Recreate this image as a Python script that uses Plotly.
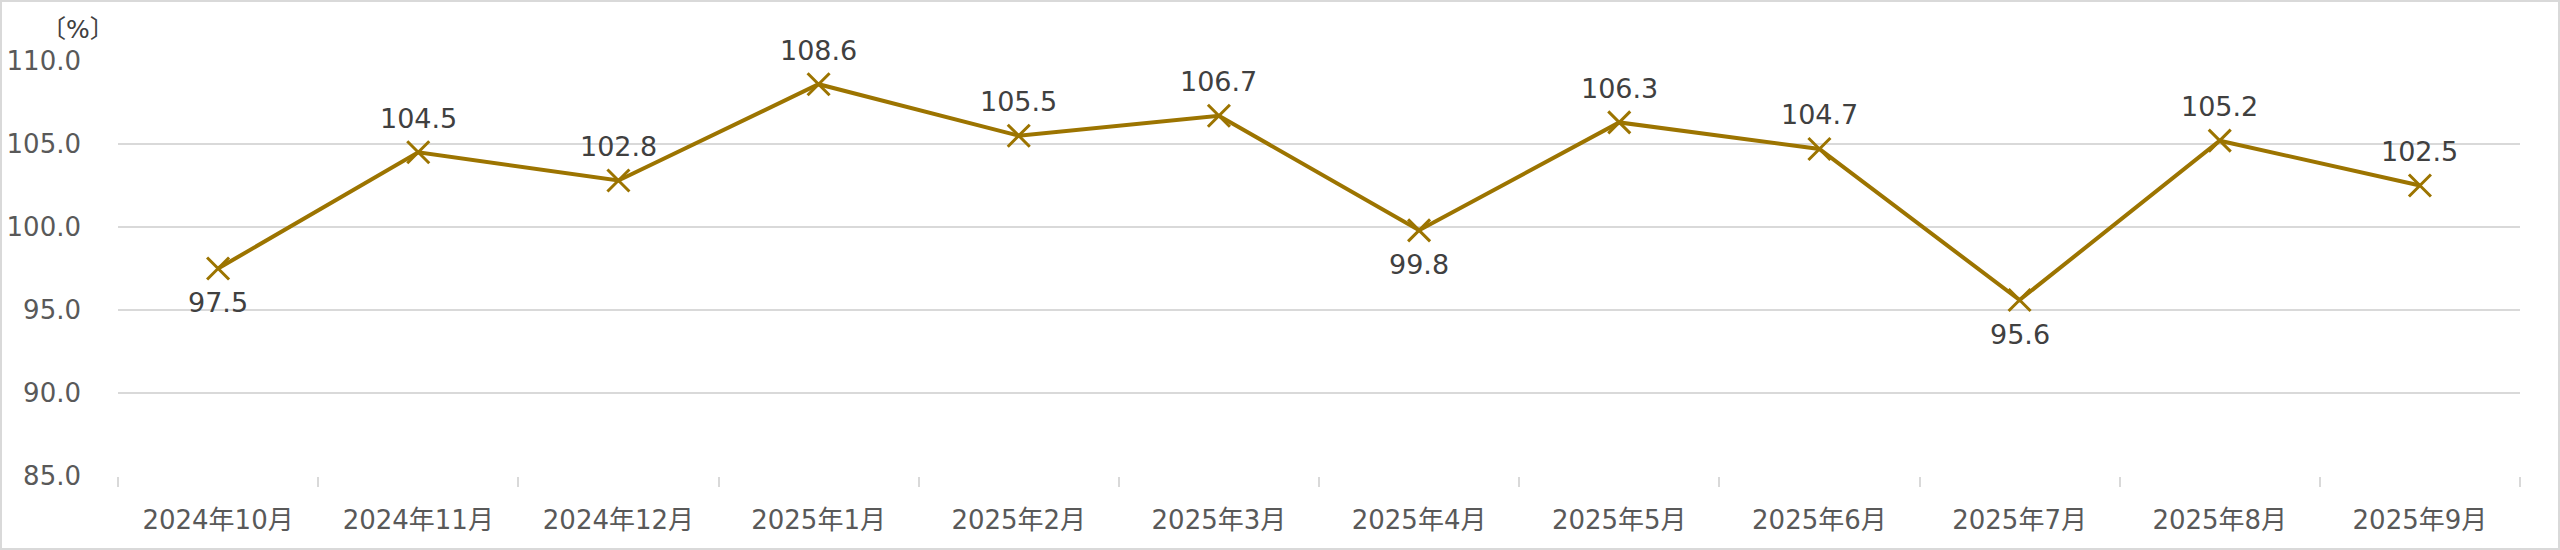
import plotly.graph_objects as go

categories = ["2024年10月", "2024年11月", "2024年12月", "2025年1月", "2025年2月", "2025年3月",
              "2025年4月", "2025年5月", "2025年6月", "2025年7月", "2025年8月", "2025年9月"]
values = [97.5, 104.5, 102.8, 108.6, 105.5, 106.7, 99.8, 106.3, 104.7, 95.6, 105.2, 102.5]
label_below = [True, False, False, False, False, False, True, False, False, True, False, False]
y_ticks = [85, 90, 95, 100, 105, 110]

LINE = "#9C7400"
GRID = "#D9D9D9"
FONT = "DejaVu Sans, Noto Sans CJK JP, sans-serif"

W, H = 2560, 550
ML, MR, MT, MB = 118, 40, 61, 74
pw, ph = W - ML - MR, H - MT - MB

fig = go.Figure()
fig.add_trace(go.Scatter(
    x=categories, y=values, mode="lines+markers",
    line=dict(color=LINE, width=4),
    marker=dict(symbol="x-thin", size=22, line=dict(color=LINE, width=3)),
    hoverinfo="skip", showlegend=False,
))

for c, v, below in zip(categories, values, label_below):
    fig.add_annotation(
        x=c, y=v, text=f"{v:.1f}", showarrow=False,
        yshift=-34 if below else 34,
        font=dict(family=FONT, size=27, color="#404040"),
    )

fig.add_annotation(
    xref="paper", yref="paper", x=(78 - ML) / pw, y=1 + (MT - 30) / ph,
    text="〔%〕", showarrow=False, xanchor="center", yanchor="middle",
    font=dict(family=FONT, size=25, color="#404040"),
)

fig.add_shape(
    type="rect", xref="paper", yref="paper",
    x0=-(ML - 1) / pw, x1=1 + (MR - 1) / pw, y0=-(MB - 1) / ph, y1=1 + (MT - 1) / ph,
    line=dict(color=GRID, width=2), fillcolor="rgba(0,0,0,0)", layer="below",
)

fig.update_xaxes(
    type="category", range=[-0.5, len(categories) - 0.5], automargin=False,
    showgrid=False, showline=False, zeroline=False,
    ticks="outside", tickson="boundaries", ticklen=10, tickcolor=GRID, tickwidth=2,
    tickfont=dict(family=FONT, size=26, color="#595959"),
    ticklabelstandoff=26,
)
fig.update_yaxes(
    range=[85, 110], tickvals=y_ticks, ticktext=[f"{t:.1f}" for t in y_ticks],
    automargin=False,
    showgrid=True, gridcolor=GRID, gridwidth=2, zeroline=False, showline=False,
    ticks="", tickfont=dict(family=FONT, size=26, color="#595959"),
    ticklabelstandoff=36,
)

fig.update_layout(
    width=W, height=H,
    margin=dict(l=ML, r=MR, t=MT, b=MB),
    paper_bgcolor="white", plot_bgcolor="white",
)

fig.write_html(
    "out.html",
    config={"displayModeBar": False, "staticPlot": True},
    post_script="document.body.style.margin='0px';document.body.style.overflow='hidden';",
)
